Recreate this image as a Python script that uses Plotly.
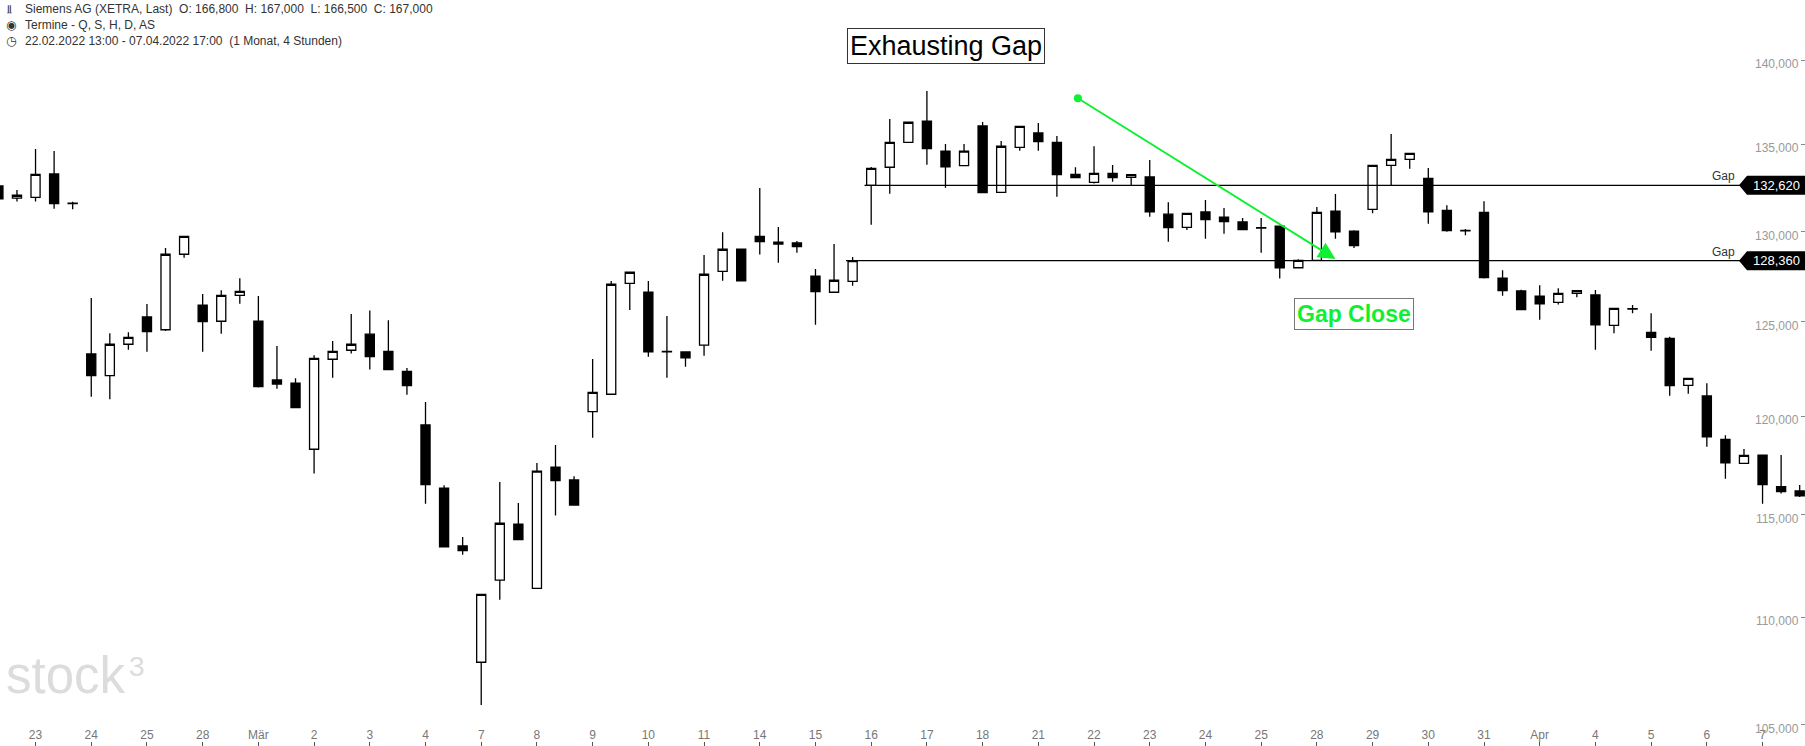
import math
import plotly.graph_objects as go

# ---------------- data ----------------
trading_days = ["22.02", "23.02", "24.02", "25.02", "28.02", "01.03", "02.03", "03.03", "04.03",
                "07.03", "08.03", "09.03", "10.03", "11.03", "14.03", "15.03", "16.03", "17.03",
                "18.03", "21.03", "22.03", "23.03", "24.03", "25.03", "28.03", "29.03", "30.03",
                "31.03", "01.04", "04.04", "05.04", "06.04", "07.04"]
sessions = ["09:00", "13:00", "17:00"]
candle_times = [f"{d} {s}" for d in trading_days for s in sessions][1:]  # 22.02 13:00 ... 07.04 17:00

opens = [132580, 131880, 131930, 133270, 131600, 123280, 122130, 123800, 125270, 124580,
         128720, 125920, 125040, 126450, 125050, 121900, 121740, 118300, 123000, 123480,
         124340, 123420, 122360, 119550, 116330, 113450, 107880, 111780, 114530, 111390,
         117390, 116740, 120240, 121150, 127110, 126630, 123420, 123390, 123750, 127770,
         129010, 129720, 129280, 129350, 127510, 126620, 127220, 132620, 133660, 135110,
         136360, 134600, 133750, 136070, 132220, 134820, 135660, 135110, 133250, 132790,
         133310, 133080, 133100, 130970, 130230, 131100, 130810, 130530, 130210, 130300,
         127970, 128380, 131150, 130020, 131250, 133770, 134120, 133020, 131190, 130050,
         131080, 127400, 126690, 126400, 126070, 126560, 126470, 124820, 125700, 124440,
         124120, 121620, 121060, 118810, 117580, 118000, 116400, 116180]
highs = [132600, 132350, 134720, 134600, 131680, 126300, 124390, 124440, 125980, 129070,
         129720, 126520, 126730, 127390, 126410, 123710, 121990, 123210, 123980, 125430,
         125630, 125090, 122540, 120750, 116470, 113890, 111100, 116630, 115580, 117600,
         118520, 116920, 123010, 127240, 127720, 127240, 125330, 123390, 128680, 129950,
         129010, 132470, 130250, 129460, 127900, 129290, 128560, 133670, 136480, 136290,
         138150, 135010, 135010, 136300, 135190, 136050, 136250, 135480, 133660, 134880,
         133790, 133230, 134080, 131650, 131020, 131780, 131320, 130760, 130760, 130300,
         128440, 131380, 132120, 130060, 133770, 135600, 134470, 133620, 131480, 130140,
         131710, 127830, 126760, 127000, 126840, 126710, 126740, 125740, 125920, 125470,
         124210, 121990, 121730, 119020, 118310, 118000, 118000, 116480]
lows = [131840, 131700, 131700, 131280, 131250, 121020, 120890, 123510, 123400, 124510,
        128530, 123400, 124370, 125990, 121500, 121440, 120440, 117070, 122020, 123300,
        122450, 122440, 121130, 115540, 113410, 113020, 105900, 110840, 113750, 111380,
        114950, 115470, 118890, 121140, 125650, 123130, 122020, 122600, 123190, 127250,
        127250, 128700, 128250, 128810, 124850, 126620, 126980, 130380, 132140, 135110,
        133810, 132480, 133750, 132200, 132220, 134620, 134620, 131970, 133060, 132730,
        132830, 132640, 130830, 129420, 130080, 129590, 129870, 130100, 128810, 127370,
        127970, 128360, 129590, 129070, 131020, 132620, 133580, 130430, 129980, 129780,
        127370, 126430, 125670, 125120, 125950, 126340, 123510, 124390, 125470, 123460,
        121070, 121180, 118430, 116800, 117580, 115540, 116060, 115880]
closes = [131850, 132050, 133250, 131570, 131580, 122130, 123800, 124170, 124480, 128720,
          129720, 125020, 126450, 126670, 121550, 121690, 120450, 123050, 123420, 123800,
          123140, 122450, 121600, 116500, 113410, 113220, 111100, 114570, 113760, 117180,
          116700, 115480, 121250, 127060, 127720, 123400, 123390, 123080, 127610, 129000,
          127250, 129420, 129390, 129140, 126650, 127280, 128360, 133600, 135110, 136290,
          134740, 133690, 134600, 132200, 134880, 136050, 135150, 133230, 133060, 133310,
          133060, 133230, 131110, 130210, 131020, 130660, 130550, 130100, 130190, 127970,
          128380, 131080, 129980, 129200, 133770, 134120, 134470, 131110, 130040, 130030,
          127420, 126710, 125670, 125990, 126560, 126710, 124850, 125740, 125720, 124170,
          121600, 121990, 118940, 117610, 117990, 116500, 116150, 115940]

day_tick_labels = ["23", "24", "25", "28", "Mär", "2", "3", "4", "7", "8", "9", "10", "11",
                   "14", "15", "16", "17", "18", "21", "22", "23", "24", "25", "28", "29",
                   "30", "31", "Apr", "4", "5", "6", "7"]
day_tick_vals = [f"{d} 09:00" for d in trading_days[1:]]

price_ticks = [105000, 110000, 115000, 120000, 125000, 130000, 135000, 140000]
price_tick_labels = [f"{v:,}" for v in price_ticks]

gap_levels = [132620, 128360]
gap_start_candle = ["16.03 09:00", "15.03 17:00"]

header_lines = ["Siemens AG (XETRA, Last)  O: 166,800  H: 167,000  L: 166,500  C: 167,000",
                "Termine - Q, S, H, D, AS",
                "22.02.2022 13:00 - 07.04.2022 17:00  (1 Monat, 4 Stunden)"]
header_icons = ["\u2AEB", "\u25C9", "\u25F7"]

# ---------------- geometry ----------------
W, H = 1805, 746
Y0, Y1 = 5.017194, 5.157446          # log10 price range of the plot area
X0, X1 = 0.086, 97.286               # category index range

def ypaper(v):
    return (math.log10(v) - Y0) / (Y1 - Y0)

GREEN = "#0ff032"

fig = go.Figure()
fig.add_trace(go.Candlestick(
    x=candle_times, open=opens, high=highs, low=lows, close=closes,
    increasing=dict(line=dict(color="black", width=1.3), fillcolor="white"),
    decreasing=dict(line=dict(color="black", width=1.3), fillcolor="black"),
    whiskerwidth=0, hoverinfo="skip", showlegend=False,
))

shapes = []
annotations = []

# gap lines + price badges
for lvl, start in zip(gap_levels, gap_start_candle):
    i = candle_times.index(start)
    shapes.append(dict(type="line", xref="x", yref="y", x0=i - 0.36, x1=X1 + 1, y0=lvl, y1=lvl,
                       line=dict(color="black", width=1.3), layer="above"))
    yc = ypaper(lvl)
    hh = 9.5 / H
    tip, left = 1739 / W, 1747 / W
    shapes.append(dict(type="path", xref="paper", yref="paper",
                       path=f"M {tip},{yc} L {left},{yc + hh} L 1,{yc + hh} L 1,{yc - hh} L {left},{yc - hh} Z",
                       fillcolor="black", line=dict(width=0), layer="above"))
    annotations.append(dict(xref="paper", yref="y", x=1776 / W, y=math.log10(lvl), text=f"{lvl:,}",
                            showarrow=False, xanchor="center", yanchor="middle",
                            font=dict(family="Arial", size=13, color="white")))
    annotations.append(dict(xref="paper", yref="y", x=1737 / W, y=math.log10(lvl), yshift=9,
                            text="Gap", showarrow=False, xanchor="right", yanchor="middle",
                            font=dict(family="Arial", size=12, color="#333333")))

# header
for k, (icon, line) in enumerate(zip(header_icons, header_lines)):
    yy = 1 - (9.5 + 16 * k) / H
    annotations.append(dict(xref="paper", yref="paper", x=4 / W, y=yy, text=icon, showarrow=False,
                            xanchor="left", yanchor="middle",
                            font=dict(family="DejaVu Sans", size=12, color="#333333")))
    annotations.append(dict(xref="paper", yref="paper", x=23 / W, y=yy, text=line, showarrow=False,
                            xanchor="left", yanchor="middle",
                            font=dict(family="Arial", size=12, color="#333333")))

# Exhausting Gap box
annotations.append(dict(xref="paper", yref="paper", x=945.5 / W, y=1 - 46 / H, text="Exhausting Gap",
                        showarrow=False, xanchor="center", yanchor="middle",
                        font=dict(family="Arial", size=27, color="black"),
                        bgcolor="white", bordercolor="#333333", borderwidth=1, borderpad=2))

# Gap Close box
annotations.append(dict(xref="paper", yref="paper", x=1353.5 / W, y=1 - 314 / H, text="<b>Gap Close</b>",
                        showarrow=False, xanchor="center", yanchor="middle",
                        font=dict(family="Arial", size=23, color=GREEN),
                        bgcolor="white", bordercolor="#777777", borderwidth=1, borderpad=2))

# green arrow
annotations.append(dict(xref="x", yref="y", axref="x", ayref="y",
                        x=72.0, y=math.log10(128456), ax=58.05, ay=math.log10(137770),
                        text="", showarrow=True, arrowhead=2, arrowsize=1.7, arrowwidth=2,
                        arrowcolor=GREEN, arrowside="end+start", startarrowhead=6, startarrowsize=1.0))

# watermark
annotations.append(dict(xref="paper", yref="paper", x=4 / W, y=1 - 706 / H, text="stock",
                        showarrow=False, xanchor="left", yanchor="bottom",
                        font=dict(family="Arial", size=51, color="#dcdcdc")))
annotations.append(dict(xref="paper", yref="paper", x=127 / W, y=1 - 649 / H, text="3",
                        showarrow=False, xanchor="left", yanchor="top",
                        font=dict(family="Arial", size=28, color="#dcdcdc")))

fig.update_layout(
    width=W, height=H, margin=dict(l=0, r=0, t=0, b=0),
    paper_bgcolor="white", plot_bgcolor="white",
    shapes=shapes, annotations=annotations, showlegend=False,
    xaxis=dict(type="category", range=[X0, X1], rangeslider=dict(visible=False),
               tickmode="array", tickvals=day_tick_vals, ticktext=day_tick_labels,
               ticks="inside", ticklen=4, tickcolor="#555555", tickwidth=1,
               ticklabelposition="inside", ticklabeloverflow="allow",
               tickfont=dict(family="Liberation Sans Narrow, Arial", size=12, color="#777777"),
               showgrid=False, zeroline=False, showline=True, linecolor="#d6d6d6", linewidth=2),
    yaxis=dict(type="log", range=[Y0, Y1], side="right",
               tickmode="array", tickvals=price_ticks, ticktext=price_tick_labels,
               ticks="inside", ticklen=4, tickcolor="#888888",
               ticklabelposition="inside", ticklabeloverflow="allow",
               ticklabelstandoff=2, ticklabelshift=4,
               tickfont=dict(family="Arial", size=12, color="#999999"),
               showgrid=False, zeroline=False, showline=False),
)

fig.write_html("out.html")
